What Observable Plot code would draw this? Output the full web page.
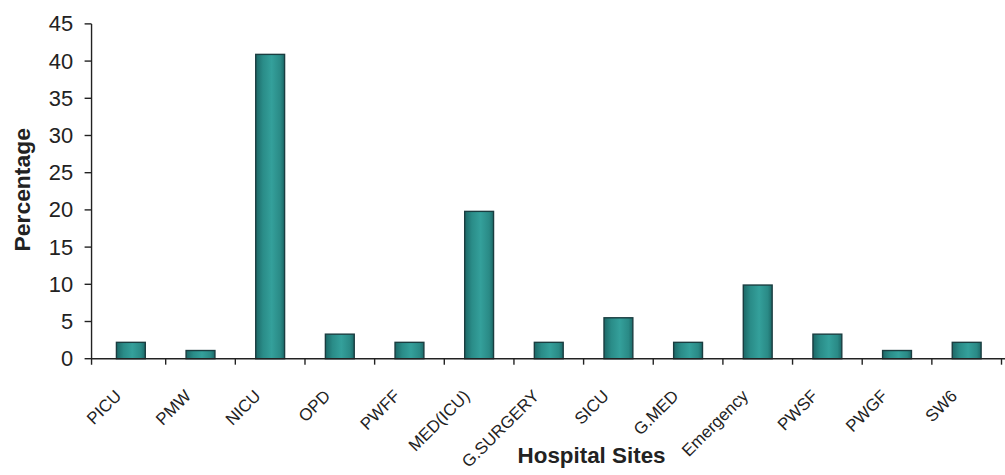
<!DOCTYPE html>
<html>
<head>
<meta charset="utf-8">
<script src="https://cdn.jsdelivr.net/npm/d3@7"></script>
<script src="https://cdn.jsdelivr.net/npm/@observablehq/plot@0.6"></script>
<style>
  body { margin: 0; background: #fff; }
  #chart { width: 1005px; height: 475px; overflow: hidden; }
</style>
</head>
<body>
<div id="chart"></div>
<script>
// Share of cases by hospital site (%)
const sites = ["PICU", "PMW", "NICU", "OPD", "PWFF", "MED(ICU)", "G.SURGERY", "SICU", "G.MED", "Emergency", "PWSF", "PWGF", "SW6"];
const percentages = [2.2, 1.1, 40.9, 3.3, 2.2, 19.8, 2.2, 5.5, 2.2, 9.9, 3.3, 1.1, 2.2];
const yTicks = [0, 5, 10, 15, 20, 25, 30, 35, 40, 45];

const data = sites.map((site, i) => ({site, pct: percentages[i]}));
const axisColor = "#222";

// Axis lines, value ticks, and the category boundary ticks below the baseline
function axisFrame(index, scales, values, dimensions) {
  const {x, y} = scales;
  const n = sites.length;
  const step = x.step ? x.step() : (dimensions.width - dimensions.marginLeft - dimensions.marginRight) / n;
  const bw = x.bandwidth ? x.bandwidth() : 0;
  const y0 = y(0);
  const g = d3.create("svg:g").attr("stroke", axisColor).attr("stroke-width", 1.4).attr("fill", "none");
  const left = dimensions.marginLeft;
  g.append("line").attr("x1", left).attr("x2", left).attr("y1", y(yTicks[yTicks.length - 1])).attr("y2", y0 + 6);
  g.append("line").attr("x1", left).attr("x2", dimensions.width).attr("y1", y0).attr("y2", y0);
  for (const t of yTicks) {
    g.append("line").attr("x1", left - 7).attr("x2", left).attr("y1", y(t)).attr("y2", y(t));
  }
  for (const s of sites) {
    const bx = x(s) + bw / 2 + step / 2;
    g.append("line").attr("x1", bx).attr("x2", bx).attr("y1", y0).attr("y2", y0 + 6);
  }
  return g.node();
}

const plot = Plot.plot({
  width: 1010,
  height: 475,
  marginLeft: 92,
  marginRight: 0,
  marginTop: 24,
  marginBottom: 114.5,
  style: {fontFamily: "'Liberation Sans', Arial, sans-serif", color: axisColor, background: "#fff"},
  x: {type: "band", domain: sites, paddingInner: 0.59, paddingOuter: 0.295, axis: null},
  y: {domain: [0, 45], axis: null},
  marks: [
    Plot.barY(data, {x: "site", y: "pct", fill: "url(#barShade)", stroke: "#1a3d40", strokeWidth: 1.4}),
    axisFrame,
    Plot.text(yTicks, {y: d => d, text: d => String(d), frameAnchor: "left", textAnchor: "end", lineAnchor: "middle", dx: -19, fontSize: 22, fill: axisColor}),
    Plot.text(data, {x: "site", text: "site", frameAnchor: "bottom", rotate: -45, textAnchor: "end", lineAnchor: "bottom", dx: -9, dy: 38, fontSize: 17, fill: axisColor}),
    Plot.text(["Percentage"], {text: d => d, frameAnchor: "left", rotate: -90, textAnchor: "middle", lineAnchor: "middle", dx: -70, dy: -2, fontSize: 23, fontWeight: "bold", fill: axisColor}),
    Plot.text(["Hospital Sites"], {text: d => d, frameAnchor: "bottom", textAnchor: "middle", lineAnchor: "bottom", dx: 43, dy: 104.5, fontSize: 22.5, fontWeight: "bold", fill: axisColor})
  ]
});

// Horizontal shading for the bars
plot.insertAdjacentHTML("afterbegin",
  `<defs><linearGradient id="barShade" x1="0" x2="1" y1="0" y2="0">
     <stop offset="0" stop-color="#1c6766"/>
     <stop offset="0.25" stop-color="#2a8c88"/>
     <stop offset="0.55" stop-color="#34a09b"/>
     <stop offset="0.85" stop-color="#2a8a86"/>
     <stop offset="1" stop-color="#1d6968"/>
   </linearGradient></defs>`);

document.getElementById("chart").append(plot);
</script>
</body>
</html>
